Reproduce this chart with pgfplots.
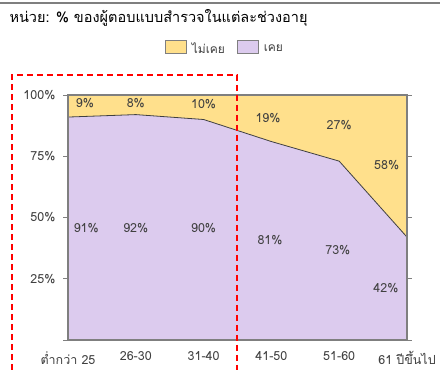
\documentclass[border=0pt]{standalone}
\usepackage{pgfplots}
\usepackage{pgfplotstable}
\pgfplotsset{compat=1.18}
\usepackage{fontspec}
\setmainfont{DejaVu Sans}
\newfontfamily\thaifont[Script=Thai]{Loma}
\definecolor{never}{HTML}{FFE08C}
\definecolor{ever}{HTML}{DCCBEE}
\definecolor{txt}{HTML}{404040}
\definecolor{frame}{HTML}{7F7F7F}
\tikzset{val/.style={font=\thaifont\fontsize{12.5}{14}\selectfont, text=txt}}

% share of respondents per age group (%)
\pgfplotstableread{
x ever never
0 91 9
1 92 8
2 90 10
3 81 19
4 73 27
5 42 58
}\survey

\begin{document}
\begin{tikzpicture}[x=1pt,y=1pt]
\useasboundingbox (0,0) rectangle (440,370);
\fill[white] (0,0) rectangle (440,370);
\draw[frame, line width=1.5pt] (0,367) -- (440,367);
\node[anchor=west, font=\thaifont\fontsize{14.5}{16}\selectfont, text=black] at (6,352)
  {หน่วย: \% ของผู้ตอบแบบสำรวจในแต่ละช่วงอายุ};
\begin{axis}[
  at={(68pt,30pt)}, anchor=south west,
  scale only axis, width=339pt, height=245pt,
  xmin=0, xmax=5, ymin=0, ymax=100,
  xtick={0,...,5},
  xticklabels={ต่ำกว่า 25,26-30,31-40,41-50,51-60,61 ปีขึ้นไป},
  x tick label style={font=\thaifont\fontsize{12.5}{14}\selectfont, text=txt, yshift=-3pt},
  xtick style={draw=none},
  ytick={0,25,50,75,100},
  yticklabels={,25\%,50\%,75\%,100\%},
  y tick label style={font=\thaifont\fontsize{12.5}{14}\selectfont, text=txt, xshift=-4pt},
  ytick style={draw=frame, line width=0.8pt},
  tick align=outside, major tick length=5pt,
  axis line style={draw=frame, line width=1.2pt},
  axis on top,
  legend columns=2,
  legend style={at={(0.463,1.19)}, anchor=center, draw=none, fill=none,
    font=\thaifont\fontsize{12}{14}\selectfont, text=txt,
    /tikz/every odd column/.append style={column sep=3pt},
    /tikz/every even column/.append style={column sep=10pt}},
  legend image code/.code={\draw[#1, draw=frame, line width=0.9pt] (0pt,-4.5pt) rectangle (21pt,8pt);},
]
\addlegendimage{fill=never}
\addlegendentry{ไม่เคย}
\addlegendimage{fill=ever}
\addlegendentry{เคย}

% upper band: "never" stacked on top of "ever"
\addplot[fill=never, draw=none, forget plot]
  table[x=x, y expr=\thisrow{ever}+\thisrow{never}] {\survey} \closedcycle;
% lower band: "ever"
\addplot[fill=ever, draw=txt, line width=0.8pt, forget plot]
  table[x=x, y=ever] {\survey} \closedcycle;

\node[val] at (axis cs:0.25,96.7) {9\%};
\node[val] at (axis cs:1.0,96.7) {8\%};
\node[val] at (axis cs:2.0,96.3) {10\%};
\node[val] at (axis cs:2.95,90.6) {19\%};
\node[val] at (axis cs:4.0,87.8) {27\%};
\node[val] at (axis cs:4.7,71.4) {58\%};
\node[val] at (axis cs:0.27,45.7) {91\%};
\node[val] at (axis cs:1.0,45.7) {92\%};
\node[val] at (axis cs:2.0,45.7) {90\%};
\node[val] at (axis cs:2.98,40.8) {81\%};
\node[val] at (axis cs:3.98,36.7) {73\%};
\node[val] at (axis cs:4.69,21.2) {42\%};
\end{axis}
\draw[red, line width=1.4pt, dash pattern=on 6pt off 4pt] (12,0) -- (12,295) -- (237,295) -- (237,0);
\end{tikzpicture}
\end{document}
